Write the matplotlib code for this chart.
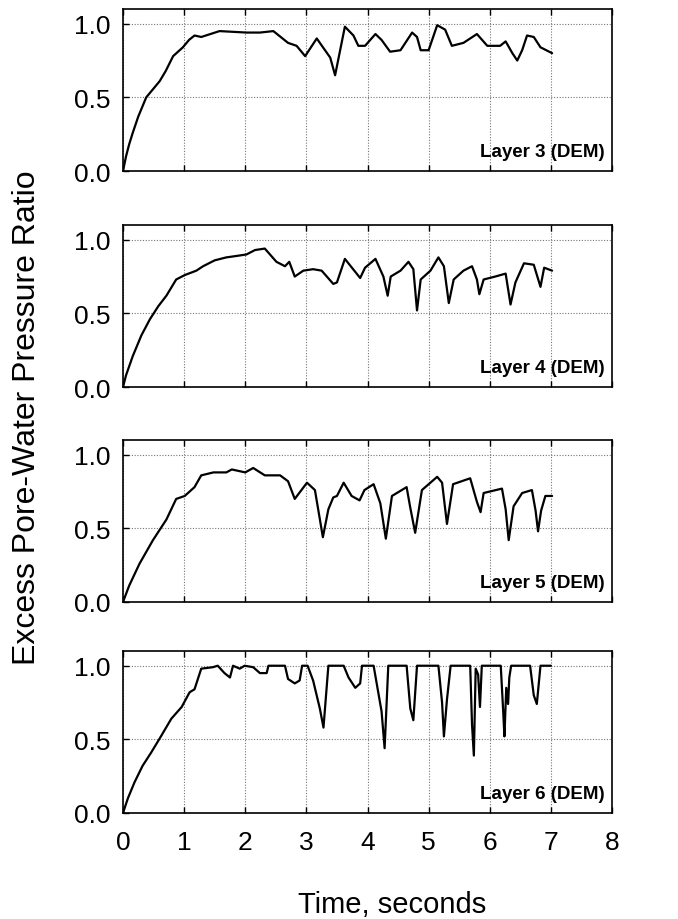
import matplotlib
matplotlib.use("Agg")
import matplotlib.pyplot as plt

plt.rcParams['font.family'] = ['Liberation Sans', 'DejaVu Sans']

# ---- data ----
t3 = [0, 0.05, 0.10, 0.16, 0.25, 0.38, 0.50, 0.60, 0.70, 0.82, 0.98, 1.08, 1.17, 1.28, 1.58,
      2.02, 2.24, 2.46, 2.70, 2.84, 2.98,
      3.17, 3.39, 3.47, 3.63, 3.77, 3.85, 3.96, 4.13, 4.23, 4.37, 4.54, 4.73, 4.81, 4.87, 5.00,
      5.14, 5.27, 5.38, 5.57, 5.79, 5.96, 6.17, 6.26, 6.37, 6.45, 6.53, 6.61, 6.72, 6.83, 7.02]
r3 = [0, 0.10, 0.18, 0.26, 0.37, 0.50, 0.56, 0.61, 0.68, 0.78, 0.84, 0.89, 0.92, 0.91, 0.95,
      0.94, 0.94, 0.95, 0.87, 0.85, 0.78,
      0.90, 0.77, 0.65, 0.98, 0.92, 0.85, 0.85, 0.93, 0.89, 0.81, 0.82, 0.94, 0.91, 0.82, 0.82,
      0.99, 0.96, 0.85, 0.87, 0.93, 0.85, 0.85, 0.88, 0.80, 0.75, 0.82, 0.92, 0.91, 0.84, 0.80]

t4 = [0, 0.05, 0.16, 0.30, 0.44, 0.58, 0.71, 0.87, 1.01, 1.20, 1.31, 1.50, 1.69, 1.86, 2.02,
      2.16, 2.32, 2.51,
      2.65, 2.72, 2.81, 2.95, 3.11, 3.25, 3.44, 3.50, 3.63, 3.88, 3.96, 4.13, 4.26, 4.33, 4.38,
      4.54, 4.67, 4.75, 4.81, 4.87, 5.03, 5.16, 5.25, 5.33, 5.41, 5.57, 5.71, 5.79, 5.83, 5.90,
      6.09, 6.26, 6.34, 6.42, 6.56, 6.72, 6.83, 6.89, 7.02]
r4 = [0, 0.08, 0.21, 0.35, 0.46, 0.55, 0.62, 0.73, 0.76, 0.79, 0.82, 0.86, 0.88, 0.89, 0.90,
      0.93, 0.94, 0.85,
      0.82, 0.85, 0.75, 0.79, 0.80, 0.79, 0.70, 0.71, 0.87, 0.74, 0.81, 0.87, 0.75, 0.62, 0.75,
      0.79, 0.85, 0.80, 0.52, 0.73, 0.79, 0.88, 0.82, 0.57, 0.73, 0.79, 0.82, 0.73, 0.63, 0.73,
      0.75, 0.77, 0.56, 0.71, 0.84, 0.83, 0.68, 0.81, 0.79]

t5 = [0, 0.10, 0.27, 0.38, 0.49, 0.60, 0.71, 0.87, 1.01, 1.17, 1.28, 1.48, 1.69, 1.78, 2.00,
      2.13, 2.32, 2.57,
      2.70, 2.81, 3.01, 3.14, 3.27, 3.36, 3.44, 3.50, 3.61, 3.74, 3.87, 3.95, 4.10, 4.21, 4.30,
      4.40, 4.64, 4.70, 4.78, 4.89, 5.14, 5.22, 5.30, 5.40, 5.68, 5.79, 5.85, 5.90, 6.20, 6.26,
      6.31, 6.39, 6.53, 6.69, 6.75, 6.79, 6.84, 6.91, 7.02]
r5 = [0, 0.11, 0.26, 0.34, 0.42, 0.49, 0.56, 0.70, 0.72, 0.78, 0.86, 0.88, 0.88, 0.90, 0.88,
      0.91, 0.86, 0.86,
      0.82, 0.70, 0.81, 0.76, 0.44, 0.63, 0.71, 0.72, 0.81, 0.72, 0.69, 0.76, 0.80, 0.67, 0.43,
      0.72, 0.78, 0.64, 0.47, 0.76, 0.85, 0.81, 0.53, 0.80, 0.84, 0.68, 0.61, 0.74, 0.77, 0.63,
      0.42, 0.65, 0.74, 0.76, 0.62, 0.48, 0.62, 0.72, 0.72]

t6 = [0, 0.08, 0.19, 0.32, 0.46, 0.62, 0.79, 0.96, 1.09, 1.17, 1.28, 1.47, 1.55, 1.66, 1.75,
      1.80, 1.91, 1.99,
      2.13, 2.24, 2.35, 2.38, 2.65, 2.70, 2.81, 2.89, 2.93, 3.02, 3.11, 3.22, 3.28, 3.36, 3.61,
      3.69, 3.80, 3.88, 3.91, 4.10, 4.23, 4.28, 4.34, 4.64, 4.70, 4.75, 4.81, 5.16, 5.22, 5.25,
      5.30, 5.36, 5.68, 5.71, 5.74, 5.77, 5.81, 5.84, 5.87, 6.18, 6.22, 6.24, 6.27, 6.30, 6.32,
      6.35, 6.66, 6.72, 6.77, 6.83, 7.00]
r6 = [0, 0.10, 0.21, 0.32, 0.41, 0.52, 0.64, 0.72, 0.82, 0.84, 0.98, 0.99, 1.00, 0.95, 0.92,
      1.00, 0.98, 1.00,
      0.99, 0.95, 0.95, 1.00, 1.00, 0.91, 0.88, 0.90, 1.00, 1.00, 0.90, 0.71, 0.58, 1.00, 1.00,
      0.92, 0.85, 0.88, 1.00, 1.00, 0.69, 0.44, 1.00, 1.00, 0.71, 0.63, 1.00, 1.00, 0.75, 0.52,
      0.77, 1.00, 1.00, 0.60, 0.39, 0.98, 0.94, 0.72, 1.00, 1.00, 0.69, 0.52, 0.85, 0.74, 0.92,
      1.00, 1.00, 0.80, 0.74, 1.00, 1.00]

times = [t3, t4, t5, t6]
ratios = [r3, r4, r5, r6]
labels = ["Layer 3 (DEM)", "Layer 4 (DEM)", "Layer 5 (DEM)", "Layer 6 (DEM)"]
xticks = [0, 1, 2, 3, 4, 5, 6, 7, 8]
yticks = [0.0, 0.5, 1.0]

W, H = 678, 920
fig = plt.figure(figsize=(W / 100, H / 100), dpi=100)

left_px, right_px = 123, 612
bottoms_px = [172, 388, 603, 814]
height_px = 162

for i, (t, r, lab) in enumerate(zip(times, ratios, labels)):
    b = bottoms_px[i]
    ax = fig.add_axes([left_px / W, 1 - b / H, (right_px - left_px) / W, height_px / H])
    ax.plot(t, r, color='black', lw=1.6, solid_joinstyle='round', solid_capstyle='round')
    ax.set_xlim(0, 8)
    ax.set_ylim(0, 1.1)
    ax.set_xticks(xticks)
    ax.set_yticks(yticks)
    ax.set_yticklabels(["%.1f" % v for v in yticks])
    ax.grid(True, linestyle=(0, (1, 1.5)), color='#777777', lw=0.8)
    for s in ax.spines.values():
        s.set_linewidth(1.2)
        s.set_color('black')
    ax.tick_params(direction='in', length=4, width=1, top=True, right=False,
                   labelsize=19, pad=9)
    if i < 3:
        ax.tick_params(labelbottom=False)
    else:
        ax.tick_params(axis='x', pad=12)
    ax.text(0.985, 0.09, lab, transform=ax.transAxes, ha='right', va='baseline',
            fontsize=13.5, fontweight='bold')

fig.text(27 / W, 1 - 418 / H, "Excess Pore-Water Pressure Ratio", rotation=90,
         ha='center', va='center', fontsize=23)
fig.text(298 / W, 1 - 913 / H, "Time, seconds", ha='left', va='baseline', fontsize=21)

fig.savefig("out.png", dpi=100)
